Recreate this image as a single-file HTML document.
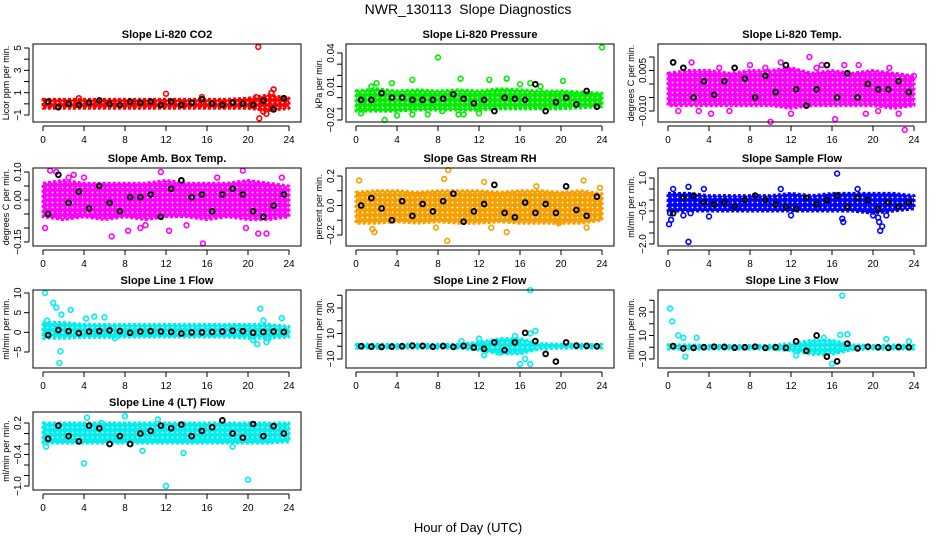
<!DOCTYPE html>
<html><head><meta charset="utf-8">
<style>
html,body{margin:0;padding:0;background:#fff;}
svg{display:block;font-family:"Liberation Sans",Arial,sans-serif;}
</style></head>
<body>
<svg id="chart" width="936" height="540" viewBox="0 0 936 540">
<defs id="defs"></defs>
<text x="468" y="14" text-anchor="middle" font-size="14" style="white-space:pre" xml:space="preserve">NWR_130113  Slope Diagnostics</text>
<text x="468" y="532" text-anchor="middle" font-size="13">Hour of Day (UTC)</text>
</svg>
<script>
// shared categories
const blackHours = [0.5,1.5,2.5,3.5,4.5,5.5,6.5,7.5,8.5,9.5,10.5,11.5,12.5,13.5,14.5,15.5,16.5,17.5,18.5,19.5,20.5,21.5,22.5,23.5];
const bandHours = [0,2,4,6,8,10,12,14,16,18,20,22,24];
const xTicks = [0,4,8,12,16,20,24];

// Panel 1: CO2
const co2Upper = [0.4,0.4,0.4,0.4,0.4,0.4,0.4,0.4,0.4,0.4,0.5,0.8,0.5];
const co2Lower = [-0.4,-0.4,-0.4,-0.4,-0.4,-0.4,-0.4,-0.4,-0.4,-0.4,-0.4,-0.6,-0.4];
const co2Black = [0.2,-0.3,0,-0.1,0.1,0.3,0,-0.1,0.2,0.1,0.2,-0.1,0.2,-0.1,0.1,0.4,0,-0.1,0.1,0,-0.1,0.3,-0.5,0.5];
const co2OutH = [21,12,22.5,21.1,21.8,22.3,3.5,15.5,21.5,20.8];
const co2OutV = [5.1,0.9,1.3,-1.3,-0.9,1.0,0.5,0.6,-0.7,0.6];

// Panel 2: Pressure
const presUpper = [0.006,0.008,0.006,0.007,0.006,0.007,0.006,0.008,0.007,0.006,0.006,0.005,0.004];
const presLower = [-0.012,-0.012,-0.012,-0.011,-0.011,-0.011,-0.011,-0.01,-0.01,-0.01,-0.01,-0.009,-0.008];
const presBlack = [-0.002,-0.002,0.004,0,0,-0.002,-0.002,-0.002,-0.001,0.003,-0.001,-0.005,-0.002,-0.012,0,-0.001,-0.002,0.012,-0.012,-0.004,0,-0.006,0.006,-0.008];
const presOutH = [8,24,2.8,10.2,5.5,14.7,13,20.2,3.5,4,5.5,7,10,10.5,12,0.5,16,17,2,1.5,8.4,18];
const presOutV = [0.036,0.045,-0.02,0.017,0.016,0.017,0.016,0.015,0.013,-0.016,-0.015,-0.015,-0.015,-0.015,-0.014,-0.014,0.012,0.013,0.013,0.01,-0.012,0.01];

// Panel 3: Li-820 Temp
const tempUpper = [0.004,0.005,0.005,0.004,0.005,0.005,0.006,0.004,0.005,0.004,0.005,0.004,0.003];
const tempLower = [-0.008,-0.008,-0.008,-0.008,-0.008,-0.008,-0.009,-0.008,-0.008,-0.008,-0.008,-0.009,-0.008];
const tempBlack = [0.008,0.006,-0.005,0.001,-0.004,0.001,0.006,0.002,-0.005,0.003,-0.003,0.007,-0.002,-0.008,-0.002,0.007,-0.005,0.004,-0.005,0,-0.002,-0.002,0.001,-0.003];
const tempOutH = [13.8,2.3,4.2,10,16.3,23.1,19.3,0.5,8,9.5,18.6,21.6,17.2,3,6,12,22.5,24,1,11,15,20.5,5,14.5];
const tempOutV = [0.010,0.008,-0.011,-0.014,-0.013,-0.017,-0.011,-0.007,0.007,0.006,0.007,0.006,0.007,-0.010,-0.010,-0.011,-0.011,0.003,-0.010,0.008,0.007,-0.010,0.006,0.006];

// Panel 4: Amb. Box Temp
const ambUpper = [0.06,0.07,0.06,0.06,0.06,0.06,0.07,0.06,0.06,0.06,0.07,0.06,0.05];
const ambLower = [-0.06,-0.07,-0.06,-0.07,-0.06,-0.07,-0.06,-0.06,-0.07,-0.06,-0.07,-0.07,-0.06];
const ambBlack = [-0.05,0.09,-0.01,0.03,-0.03,0.05,-0.01,-0.04,0.01,0.01,0.02,-0.06,0.04,0.07,0.01,0.02,-0.04,0.02,0.04,0.02,-0.04,-0.06,-0.02,0.02];
const ambOutH = [0.7,1.3,6.7,8.3,12.3,15.6,19.5,21,21.8,3,11.5,4,19.8,9.5,0.2,2.5,14,17,23.3,10];
const ambOutV = [0.105,0.1,-0.13,-0.11,-0.11,-0.155,0.105,-0.12,-0.12,0.09,0.1,0.08,-0.1,-0.1,-0.1,0.08,-0.09,0.08,0.08,-0.09];

// Panel 5: Gas Stream RH
const rhUpper = [0.09,0.1,0.1,0.09,0.1,0.1,0.1,0.09,0.1,0.1,0.09,0.1,0.08];
const rhLower = [-0.12,-0.12,-0.11,-0.12,-0.11,-0.12,-0.12,-0.11,-0.12,-0.12,-0.12,-0.12,-0.1];
const rhBlack = [0,0.05,-0.02,-0.1,0.03,-0.07,0.01,-0.04,0.03,0.08,-0.11,-0.04,0.01,0.14,-0.05,-0.08,0.02,-0.05,0.01,-0.05,0.13,-0.03,-0.07,0.06];
const rhOutH = [9,8.9,0.3,1.8,14.7,22.2,22.5,13.2,7.8,12.5,17.6,1.6,8.6,19.8,23.8];
const rhOutV = [0.24,-0.24,0.17,-0.18,-0.18,0.17,-0.15,-0.15,-0.15,0.16,0.13,-0.16,0.18,-0.12,0.12];

// Panel 6: Sample Flow
const flowUpper = [0.3,0.3,0.2,0.2,0.2,0.2,0.3,0.2,0.3,0.3,0.3,0.3,0.2];
const flowLower = [-0.5,-0.5,-0.5,-0.5,-0.5,-0.5,-0.5,-0.5,-0.5,-0.5,-0.6,-0.5,-0.4];
const flowBlack = [-0.6,0.1,0.2,-0.1,-0.2,-0.1,-0.3,0.0,0.2,0.0,-0.2,-0.3,-0.4,0.1,-0.2,0.0,0.2,-0.3,0.1,0.0,-0.4,-0.1,-0.3,-0.1];
const flowOutH = [16.5,2,0.1,0.3,0.2,4,12,17,17.1,20,20.5,20.6,20.7,20.9,21.3,2,0.5,3.5,18.5,11,2.2,1.5];
const flowOutV = [1.2,-1.9,-1.1,-0.9,-0.6,-0.75,-0.7,-0.85,-1.0,-0.7,-0.8,-1.0,-1.4,-1.2,-0.7,0.6,0.5,0.5,0.5,0.5,-0.6,-0.7];

// Panel 7: Line 1 Flow
const l1Upper = [2.5,2.5,2,2,2,2,2,2,2,2,2,2,1.5];
const l1Lower = [-1.5,-1.5,-1.3,-1.3,-1.2,-1.2,-1.2,-1.2,-1.2,-1.2,-1.5,-1.5,-1.2];
const l1Black = [-0.7,0.6,0.3,-0.2,0.2,0.3,0.5,0.3,-0.1,0.2,0.3,0.2,0.1,-0.3,0,0,0.1,0.2,0.4,0.3,-0.1,0.1,0.2,0.1];
const l1OutH = [0.2,1.0,1.3,1.8,2.7,1.7,1.6,4.2,5,6,21.2,21.5,20.5,20.9,21.8,23.3,22,0.4,7];
const l1OutV = [10,7.5,6.3,4.5,5.7,-4.8,-7.8,3.5,4,3.8,6,3,-2,-3,-2.5,3.6,-1.5,3,-1.5];

// Panel 8: Line 2 Flow
const l2Upper = [1.5,1.5,1.5,1.5,1.5,1.5,3,6,6,2,1.5,1.5,1.5];
const l2Lower = [-1.5,-1.5,-1.5,-1.5,-1.5,-1.5,-3,-6,-6,-2,-1.5,-1.5,-1.5];
const l2Black = [0,-0.3,-0.5,-0.3,0,0.5,0.3,-0.4,0.2,-0.5,0.3,-1,-2,3,-3,3,10.5,4,-6,-12,3,0.5,0.3,0];
const l2OutH = [17,17.5,17,16,17,15.5,12,12.5,16.5,14,10.3];
const l2OutV = [44,12,10,-14,-14,8,6,-7,-10,-5,4];

// Panel 9: Line 3 Flow
const l3Upper = [2,2,1.5,1.5,1.5,1.5,3,6,6,2,1.5,2,1.5];
const l3Lower = [-1.5,-1.5,-1.5,-1.5,-1.5,-1.5,-3,-6,-6,-2,-1.5,-1.5,-1.5];
const l3Black = [1,-1,-0.5,0,0.5,0.3,-0.3,0,0.5,-0.5,0,-0.5,5,-3,10,-8,-12,3,-1,0.5,0,-0.5,0.2,0];
const l3OutH = [0.2,0.4,1,1.5,2.8,1.7,17,17.5,16.8,21.3,23.5,16,15.2,12.5];
const l3OutV = [33,22,10,8,8,-8,44,11,10.5,7,5,-14,8,-7];

// Panel 10: Line 4 (LT) Flow
const l4Upper = [0.2,0.2,0.2,0.2,0.2,0.2,0.2,0.2,0.2,0.2,0.2,0.2,0.2];
const l4Lower = [-0.18,-0.18,-0.18,-0.18,-0.18,-0.18,-0.18,-0.18,-0.18,-0.18,-0.18,-0.18,-0.16];
const l4Black = [-0.1,0.15,-0.05,-0.15,0.15,0.1,-0.2,-0.05,-0.2,0,0.05,0.15,0.1,0.17,-0.05,0.05,0.12,0.25,0,-0.08,0.18,-0.05,0.14,0];
const l4OutH = [4,12,20,0.3,4.3,8,13.7,9.7,11.2,5.7,18.5];
const l4OutV = [-0.57,-1.0,-0.88,-0.25,0.3,0.33,-0.37,-0.33,0.27,0.2,-0.25];

const NS = "http://www.w3.org/2000/svg";
const svg = document.getElementById('chart');
const defs = document.getElementById('defs');
function mk(tag, attrs, parent){
  const e = document.createElementNS(NS, tag);
  for (const k in attrs) e.setAttribute(k, attrs[k]);
  (parent||svg).appendChild(e);
  return e;
}
const patterns = {};
function patternFor(color){
  if (patterns[color]) return patterns[color];
  const id = 'pat' + Object.keys(patterns).length;
  const p = mk('pattern',{id:id, width:5, height:5, patternUnits:'userSpaceOnUse'}, defs);
  mk('rect',{x:0,y:0,width:5,height:5,fill:color}, p);
  mk('circle',{cx:2.5,cy:2.5,r:0.9,fill:'#fff'}, p);
  patterns[color] = 'url(#'+id+')';
  return patterns[color];
}

const panels = [
  {slug:'co2', title:'Slope Li-820 CO2', ylab:'Licor ppm per min.', col:0,row:0, color:'#ff0000', r:[-1,115,5,48], ticks:[-1,0,1,2,3,4,5], labels:[-1,1,3,5], fmt:v=>String(v).replace('-','\u2212'), up:co2Upper, lo:co2Lower, blk:co2Black, oh:co2OutH, ov:co2OutV},
  {slug:'pressure', title:'Slope Li-820 Pressure', ylab:'kPa per min.', col:1,row:0, color:'#00ee00', r:[-0.02,120,0.04,53], ticks:[-0.02,-0.01,0,0.01,0.02,0.03,0.04], labels:[-0.02,0.01,0.04], fmt:v=>v.toFixed(2).replace('-','\u2212'), up:presUpper, lo:presLower, blk:presBlack, oh:presOutH, ov:presOutV},
  {slug:'li820-temp', title:'Slope Li-820 Temp.', ylab:'degrees C per min.', col:2,row:0, color:'#ff00ff', r:[-0.01,111,0.01,57], ticks:[-0.01,-0.005,0,0.005,0.01], labels:[-0.01,0.005], fmt:v=>v.toFixed(3).replace('-','\u2212'), up:tempUpper, lo:tempLower, blk:tempBlack, oh:tempOutH, ov:tempOutV},
  {slug:'amb-box-temp', title:'Slope Amb. Box Temp.', ylab:'degrees C per min.', col:0,row:1, color:'#ff00ff', r:[-0.15,242,0.1,172], ticks:[-0.15,-0.1,-0.05,0,0.05,0.1], labels:[-0.15,0,0.1], fmt:v=>v.toFixed(2).replace('-','\u2212'), up:ambUpper, lo:ambLower, blk:ambBlack, oh:ambOutH, ov:ambOutV},
  {slug:'gas-stream-rh', title:'Slope Gas Stream RH', ylab:'percent per min.', col:1,row:1, color:'#f5a000', r:[-0.2,235,0.2,176], ticks:[-0.2,-0.1,0,0.1,0.2], labels:[-0.2,0,0.2], fmt:v=>v.toFixed(1).replace('-','\u2212'), up:rhUpper, lo:rhLower, blk:rhBlack, oh:rhOutH, ov:rhOutV},
  {slug:'sample-flow', title:'Slope Sample Flow', ylab:'ml/min per min.', col:2,row:1, color:'#0000ff', r:[-2,244,1,178], ticks:[-2,-1.5,-1,-0.5,0,0.5,1], labels:[-2,-0.5,1], fmt:v=>v.toFixed(1).replace('-','\u2212'), up:flowUpper, lo:flowLower, blk:flowBlack, oh:flowOutH, ov:flowOutV},
  {slug:'line1-flow', title:'Slope Line 1 Flow', ylab:'ml/min per min.', col:0,row:2, color:'#00eeee', r:[-5,352,10,293], ticks:[-5,0,5,10], labels:[-5,0,5,10], fmt:v=>String(v).replace('-','\u2212'), up:l1Upper, lo:l1Lower, blk:l1Black, oh:l1OutH, ov:l1OutV},
  {slug:'line2-flow', title:'Slope Line 2 Flow', ylab:'ml/min per min.', col:1,row:2, color:'#00eeee', r:[-10,359,30,308], ticks:[-10,0,10,20,30,40], labels:[-10,10,30], fmt:v=>String(v).replace('-','\u2212'), up:l2Upper, lo:l2Lower, blk:l2Black, oh:l2OutH, ov:l2OutV},
  {slug:'line3-flow', title:'Slope Line 3 Flow', ylab:'ml/min per min.', col:2,row:2, color:'#00eeee', r:[-10,359,30,312], ticks:[-10,0,10,20,30,40], labels:[-10,10,30], fmt:v=>String(v).replace('-','\u2212'), up:l3Upper, lo:l3Lower, blk:l3Black, oh:l3OutH, ov:l3OutV},
  {slug:'line4-flow', title:'Slope Line 4 (LT) Flow', ylab:'ml/min per min.', col:0,row:3, color:'#00eeee', r:[-1,486,0.2,423], ticks:[-1,-0.8,-0.6,-0.4,-0.2,0,0.2], labels:[-1,-0.4,0.2], fmt:v=>v.toFixed(1).replace('-','\u2212'), up:l4Upper, lo:l4Lower, blk:l4Black, oh:l4OutH, ov:l4OutV}
];
const colX0 = [43,356,668];
const rowTop = [44,168,290,412];
const BOXH = 78;

panels.forEach(p=>{
  const x0 = colX0[p.col], x24 = x0+246;
  const left = x0-10, right = x24+12, top = rowTop[p.row], bot = top+BOXH;
  const xs = h => x0 + (h/24)*(x24-x0);
  const ys = v => p.r[1] + (v-p.r[0])*(p.r[3]-p.r[1])/(p.r[2]-p.r[0]);
  const g = mk('g',{});
  
  

  const t = mk('text',{x:(left+right)/2, y:top-6, 'text-anchor':'middle','font-size':11,'font-weight':'bold'}, g);
  t.textContent = p.title;
  
  

  // colored band (dense cloud)
  let pts = [];
  p.up.forEach((v,i)=>pts.push(xs(bandHours[i])+','+ys(v)));
  for (let i=p.lo.length-1;i>=0;i--) pts.push(xs(bandHours[i])+','+ys(p.lo[i]));
  const band = mk('polygon',{points:pts.join(' '), fill:patternFor(p.color), stroke:p.color, 'stroke-width':3, 'stroke-linejoin':'round', 'stroke-dasharray':'3 2'}, g);
  
  

  // colored outlier points
  p.oh.forEach((h,i)=>{
    const c = mk('circle',{cx:xs(h), cy:ys(p.ov[i]), r:2.4, fill:'none', stroke:p.color, 'stroke-width':1.6}, g);
    
    
  });
  // black points
  p.blk.forEach((v,i)=>{
    const c = mk('circle',{cx:xs(blackHours[i]), cy:ys(v), r:2.4, fill:'none', stroke:'#000', 'stroke-width':1.9}, g);
    
    
  });

  const box = mk('rect',{x:left, y:top, width:right-left, height:BOXH, fill:'none', stroke:'#000','stroke-width':1}, g);
  
  

  // x axis
  const xa = mk('g',{}, g);
  
  
  mk('line',{x1:x0,y1:bot+4,x2:x24,y2:bot+4,stroke:'#000'}, xa);
  xTicks.forEach(h=>{
    mk('line',{x1:xs(h),y1:bot+4,x2:xs(h),y2:bot+9,stroke:'#000'}, xa);
    const tl = mk('text',{x:xs(h), y:bot+21,'text-anchor':'middle','font-size':10}, xa);
    tl.textContent = h;
    
    
  });
  // y axis
  const ya = mk('g',{}, g);
  
  
  const tmin = Math.min(...p.ticks), tmax = Math.max(...p.ticks);
  mk('line',{x1:left-4,y1:ys(tmin),x2:left-4,y2:ys(tmax),stroke:'#000'}, ya);
  p.ticks.forEach(v=>{
    mk('line',{x1:left-9,y1:ys(v),x2:left-4,y2:ys(v),stroke:'#000'}, ya);
  });
  p.labels.forEach(v=>{
    const yy = ys(v);
    const tl = mk('text',{x:left-12, y:yy,'text-anchor':'middle','font-size':10, transform:'rotate(-90 '+(left-12)+' '+yy+')'}, ya);
    tl.textContent = p.fmt(v);
    
    
  });
  const cy = top + BOXH/2, lx = left-24;
  const yl = mk('text',{x:lx, y:cy,'text-anchor':'middle','font-size':9, transform:'rotate(-90 '+lx+' '+cy+')'}, ya);
  yl.textContent = p.ylab;
  
  
});
</script>
</body></html>
